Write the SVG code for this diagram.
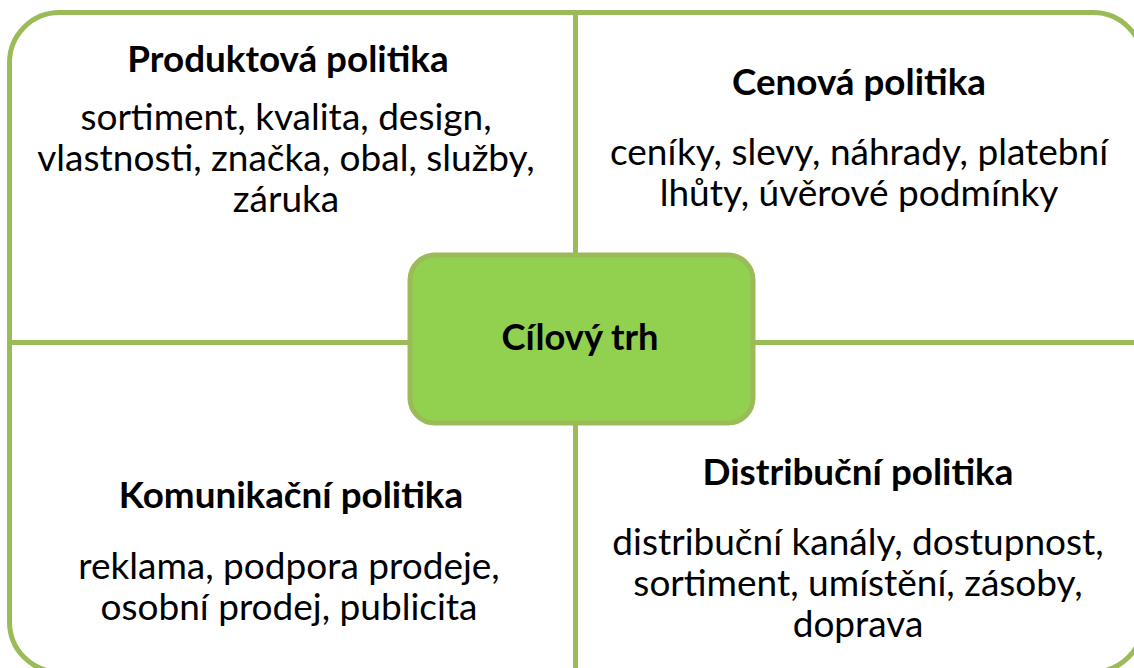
<svg xmlns="http://www.w3.org/2000/svg" width="1134" height="668" viewBox="0 0 1134 668">
  <style>
    .frame { fill: #ffffff; stroke: #9BBB59; stroke-width: 5; }
    .conn { stroke: #9BBB59; stroke-width: 5; fill: none; }
    .hub { fill: #92D050; stroke: #9BBB59; stroke-width: 5; }
    text { font-family: Lato, "Open Sans", "Liberation Sans", sans-serif; fill: #000000; text-anchor: middle; }
    .head { font-size: 36.8px; font-weight: bold; }
    .body { font-size: 37px; }
  </style>
  <rect class="frame" x="9.5" y="12.5" width="1133.5" height="659.5" rx="50" ry="50"/>
  <g id="connectors">
    <line class="conn" x1="575.5" y1="12.5" x2="575.5" y2="255"/>
    <line class="conn" x1="575.5" y1="423" x2="575.5" y2="672"/>
    <line class="conn" x1="9.5" y1="342.5" x2="410" y2="342.5"/>
    <line class="conn" x1="753" y1="342.5" x2="1143" y2="342.5"/>
  </g>
  <g id="produktova">
    <text class="head" x="288" y="72">Produktová politika</text>
    <text class="body" x="286" y="130">sortiment, kvalita, design,</text>
    <text class="body" x="286" y="171">vlastnosti, značka, obal, služby,</text>
    <text class="body" x="286" y="212">záruka</text>
  </g>
  <g id="cenova">
    <text class="head" x="859" y="95">Cenová politika</text>
    <text class="body" x="859" y="165">ceníky, slevy, náhrady, platební</text>
    <text class="body" x="859" y="206">lhůty, úvěrové podmínky</text>
  </g>
  <g id="komunikacni">
    <text class="head" x="291" y="508">Komunikační politika</text>
    <text class="body" x="289" y="579">reklama, podpora prodeje,</text>
    <text class="body" x="289" y="620">osobní prodej, publicita</text>
  </g>
  <g id="distribucni">
    <text class="head" x="858" y="485">Distribuční politika</text>
    <text class="body" x="858" y="555">distribuční kanály, dostupnost,</text>
    <text class="body" x="858" y="596">sortiment, umístění, zásoby,</text>
    <text class="body" x="858" y="637">doprava</text>
  </g>
  <g id="cilovy-trh">
    <rect class="hub" x="410" y="255" width="343" height="168" rx="25" ry="25"/>
    <text class="head" x="580" y="350" style="font-size:36.3px">Cílový trh</text>
  </g>
</svg>
